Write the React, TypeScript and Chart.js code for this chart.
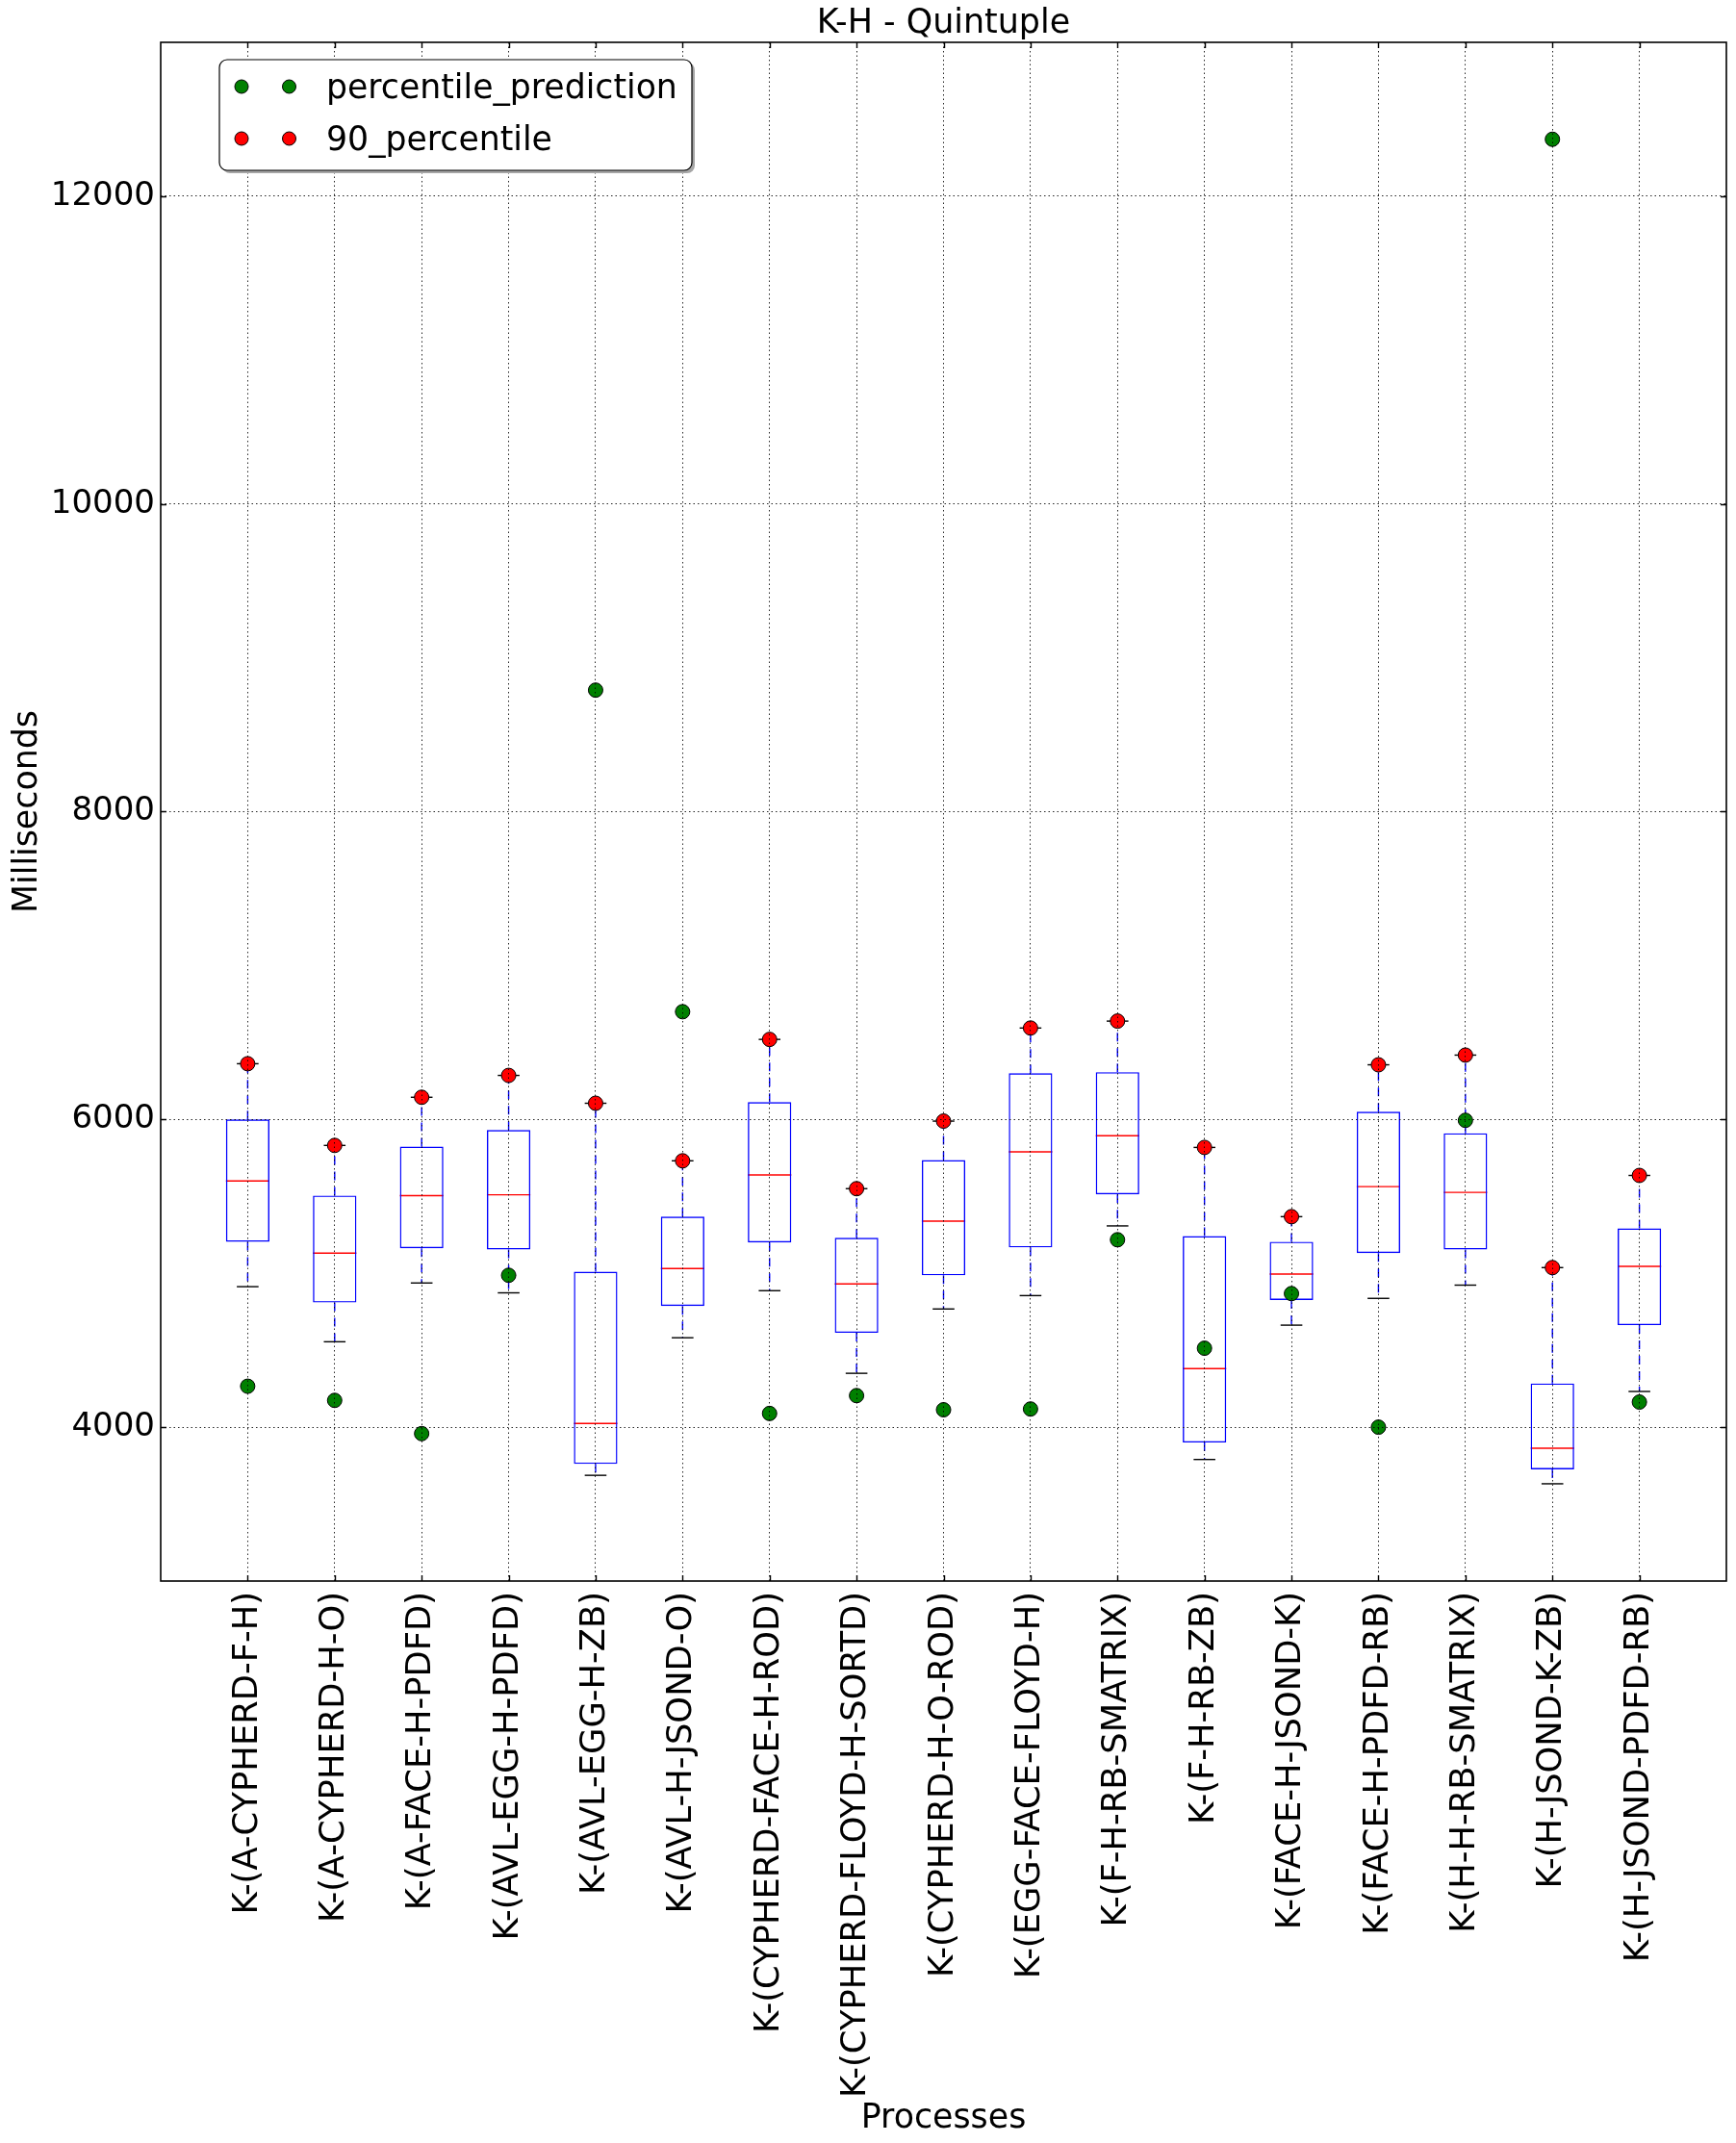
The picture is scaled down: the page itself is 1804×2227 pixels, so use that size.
import React, { useEffect, useRef } from 'react';
import { Chart, registerables } from 'chart.js';

Chart.register(...registerables);

// ---------------- data ----------------
const chartTitle = 'K-H - Quintuple';
const xAxisTitle = 'Processes';
const yAxisTitle = 'Milliseconds';

const categories = [
  'K-(A-CYPHERD-F-H)',
  'K-(A-CYPHERD-H-O)',
  'K-(A-FACE-H-PDFD)',
  'K-(AVL-EGG-H-PDFD)',
  'K-(AVL-EGG-H-ZB)',
  'K-(AVL-H-JSOND-O)',
  'K-(CYPHERD-FACE-H-ROD)',
  'K-(CYPHERD-FLOYD-H-SORTD)',
  'K-(CYPHERD-H-O-ROD)',
  'K-(EGG-FACE-FLOYD-H)',
  'K-(F-H-RB-SMATRIX)',
  'K-(F-H-RB-ZB)',
  'K-(FACE-H-JSOND-K)',
  'K-(FACE-H-PDFD-RB)',
  'K-(H-H-RB-SMATRIX)',
  'K-(H-JSOND-K-ZB)',
  'K-(H-JSOND-PDFD-RB)',
];

const whiskerLow = [4913, 4555, 4937, 4873, 3687, 4581, 4887, 4350, 4768, 4855, 5308, 3790, 4663, 4837, 4923, 3632, 4232];
const q1 = [5205, 4810, 5163, 5155, 3761, 4787, 5200, 4613, 4987, 5168, 5513, 3900, 4826, 5131, 5155, 3726, 4663];
const median = [5600, 5131, 5505, 5510, 4024, 5031, 5639, 4931, 5339, 5789, 5894, 4381, 4995, 5563, 5526, 3863, 5045];
const q3 = [6000, 5505, 5823, 5931, 5010, 5368, 6113, 5231, 5736, 6300, 6307, 5242, 5205, 6050, 5910, 4284, 5292];
const whiskerHigh = [6362, 5831, 6144, 6286, 6105, 5731, 6520, 5550, 5989, 6594, 6639, 5818, 5368, 6355, 6418, 5037, 5636];

const percentilePrediction = [4266, 4174, 3958, 4987, 8790, 6700, 4089, 4205, 4113, 4118, 5218, 4513, 4868, 4000, 5994, 12370, 4163];
const percentile90 = [6362, 5831, 6144, 6286, 6105, 5731, 6520, 5550, 5989, 6594, 6639, 5818, 5368, 6355, 6418, 5037, 5636];

const seriesLabels = ['percentile_prediction', '90_percentile'];

const yTicks = [4000, 6000, 8000, 10000, 12000];
const yMin = 3000;
const yMax = 13000;
const xMin = 0;
const xMax = 18;

// ---------------- style ----------------
const FONT = 'DejaVu Sans';
const FS_TICK_Y = 34;
const FS_TICK_X = 35.3;
const FS_TITLE = 34.9;
const FS_LEGEND = 34.7;
const FS_AXIS = 34.8;
const BLUE = '#0000ff';
const GREEN = '#008000';
const RED = '#ff0000';
const BOX_HALF = 0.25;
const CAP_HALF = 0.125;
const LW = 1.4;

const boxPlugin = {
  id: 'boxWhiskers',
  beforeDatasetsDraw(chart: any) {
    const { ctx, chartArea } = chart;
    const x = chart.scales.x;
    const y = chart.scales.y;
    ctx.save();
    ctx.beginPath();
    ctx.rect(chartArea.left, chartArea.top, chartArea.right - chartArea.left, chartArea.bottom - chartArea.top);
    ctx.clip();
    ctx.lineWidth = LW;
    categories.forEach((_, i) => {
      const pos = i + 1;
      const cx = x.getPixelForValue(pos);
      // whiskers
      ctx.strokeStyle = BLUE;
      ctx.setLineDash([9, 7]);
      ctx.beginPath();
      ctx.moveTo(cx, y.getPixelForValue(q3[i]));
      ctx.lineTo(cx, y.getPixelForValue(whiskerHigh[i]));
      ctx.stroke();
      ctx.beginPath();
      ctx.moveTo(cx, y.getPixelForValue(q1[i]));
      ctx.lineTo(cx, y.getPixelForValue(whiskerLow[i]));
      ctx.stroke();
      ctx.setLineDash([]);
      // caps
      ctx.strokeStyle = '#000';
      const cl = x.getPixelForValue(pos - CAP_HALF);
      const cr = x.getPixelForValue(pos + CAP_HALF);
      [whiskerHigh[i], whiskerLow[i]].forEach((v) => {
        const py = y.getPixelForValue(v);
        ctx.beginPath();
        ctx.moveTo(cl, py);
        ctx.lineTo(cr, py);
        ctx.stroke();
      });
      // median
      ctx.strokeStyle = RED;
      const my = y.getPixelForValue(median[i]);
      ctx.beginPath();
      ctx.moveTo(x.getPixelForValue(pos - BOX_HALF), my);
      ctx.lineTo(x.getPixelForValue(pos + BOX_HALF), my);
      ctx.stroke();
    });
    ctx.restore();
  },
  afterDraw(chart: any) {
    const { ctx, chartArea } = chart;
    const x = chart.scales.x;
    const y = chart.scales.y;
    const { left, right, top, bottom } = chartArea;
    ctx.save();
    // inward tick marks on all four sides
    ctx.strokeStyle = '#000';
    ctx.lineWidth = LW;
    const TL = 6;
    x.ticks.forEach((t: any) => {
      const px = Math.round(x.getPixelForValue(t.value)) + 0.5;
      ctx.beginPath();
      ctx.moveTo(px, bottom);
      ctx.lineTo(px, bottom - TL);
      ctx.moveTo(px, top);
      ctx.lineTo(px, top + TL);
      ctx.stroke();
    });
    y.ticks.forEach((t: any) => {
      const py = Math.round(y.getPixelForValue(t.value)) + 0.5;
      ctx.beginPath();
      ctx.moveTo(left, py);
      ctx.lineTo(left + TL, py);
      ctx.moveTo(right, py);
      ctx.lineTo(right - TL, py);
      ctx.stroke();
    });
    // frame
    ctx.lineWidth = 1.6;
    ctx.strokeRect(left, top, right - left, bottom - top);

    // legend
    const lx = left + 61;
    const ly = top + 18;
    const lw = 491;
    const lh = 115;
    const r = 8;
    const rr = (px: number, py: number) => {
      ctx.beginPath();
      ctx.moveTo(px + r, py);
      ctx.lineTo(px + lw - r, py);
      ctx.arcTo(px + lw, py, px + lw, py + r, r);
      ctx.lineTo(px + lw, py + lh - r);
      ctx.arcTo(px + lw, py + lh, px + lw - r, py + lh, r);
      ctx.lineTo(px + r, py + lh);
      ctx.arcTo(px, py + lh, px, py + lh - r, r);
      ctx.lineTo(px, py + r);
      ctx.arcTo(px, py, px + r, py, r);
      ctx.closePath();
    };
    rr(lx + 3, ly + 3);
    ctx.fillStyle = '#a6a6a6';
    ctx.fill();
    rr(lx, ly);
    ctx.fillStyle = '#ffffff';
    ctx.fill();
    ctx.strokeStyle = '#000';
    ctx.lineWidth = 1.2;
    ctx.stroke();

    const legendSets = [chart.data.datasets[1], chart.data.datasets[0]];
    legendSets.forEach((ds: any, k: number) => {
      const rowY = ly + 28 + k * 54;
      [lx + 23, lx + 72.5].forEach((mx) => {
        ctx.beginPath();
        ctx.arc(mx, rowY, 7, 0, Math.PI * 2);
        ctx.fillStyle = ds.backgroundColor;
        ctx.fill();
        ctx.lineWidth = 1;
        ctx.strokeStyle = '#000';
        ctx.stroke();
      });
      ctx.fillStyle = '#000';
      ctx.font = `${FS_LEGEND}px "${FONT}"`;
      ctx.textAlign = 'left';
      ctx.textBaseline = 'alphabetic';
      ctx.fillText(ds.label, lx + 111, rowY + 12);
    });
    ctx.restore();
  },
};

export default function App() {
  const ref = useRef<HTMLCanvasElement | null>(null);

  useEffect(() => {
    if (!ref.current) return;
    const positions = categories.map((_, i) => i + 1);
    const chart = new Chart(ref.current, {
      type: 'bar',
      data: {
        datasets: [
          {
            type: 'scatter',
            label: seriesLabels[1],
            data: positions.map((p, i) => ({ x: p, y: percentile90[i] })),
            backgroundColor: RED,
            borderColor: '#000',
            pointRadius: 7.5,
            pointHoverRadius: 7.5,
            pointBorderWidth: 1,
            showLine: false,
          } as any,
          {
            type: 'scatter',
            label: seriesLabels[0],
            data: positions.map((p, i) => ({ x: p, y: percentilePrediction[i] })),
            backgroundColor: GREEN,
            borderColor: '#000',
            pointRadius: 7.5,
            pointHoverRadius: 7.5,
            pointBorderWidth: 1,
            showLine: false,
          } as any,
          {
            type: 'bar',
            label: 'box',
            data: positions.map((p, i) => ({ x: p, y: [q1[i], q3[i]] })),
            backgroundColor: 'rgba(0,0,0,0)',
            borderColor: BLUE,
            borderWidth: LW,
            borderSkipped: false,
            barPercentage: 0.5,
            categoryPercentage: 1,
          } as any,
        ],
      },
      options: {
        animation: false,
        responsive: false,
        events: [],
        layout: { padding: { left: 0, right: 10, top: 0, bottom: 0 } },
        plugins: {
          legend: { display: false },
          tooltip: { enabled: false },
          title: {
            display: true,
            text: chartTitle,
            fullSize: false,
            color: '#000',
            font: { family: FONT, size: FS_TITLE, weight: 'normal', lineHeight: 1.1 },
            padding: { top: 5.6, bottom: 0 },
          },
        },
        scales: {
          x: {
            type: 'linear',
            min: xMin,
            max: xMax,
            offset: false,
            afterBuildTicks: (scale: any) => {
              scale.ticks = positions.map((v) => ({ value: v }));
            },
            afterFit: (scale: any) => {
              scale.height = 584;
            },
            ticks: {
              autoSkip: false,
              minRotation: 90,
              maxRotation: 90,
              padding: 11,
              color: '#000',
              font: { family: FONT, size: FS_TICK_X },
              callback: (v: any) => categories[Math.round(Number(v)) - 1] ?? '',
            },
            grid: { color: 'rgba(0,0,0,0.85)', lineWidth: 1, drawTicks: false, z: 1, offset: false },
            border: { display: false, dash: [1.5, 3] },
            title: {
              display: true,
              text: xAxisTitle,
              color: '#000',
              font: { family: FONT, size: FS_AXIS },
              padding: { top: 0, bottom: 4 },
            },
          },
          y: {
            type: 'linear',
            min: yMin,
            max: yMax,
            afterBuildTicks: (scale: any) => {
              scale.ticks = yTicks.map((v) => ({ value: v }));
            },
            afterFit: (scale: any) => {
              scale.width = 167;
            },
            ticks: {
              padding: 6,
              color: '#000',
              font: { family: FONT, size: FS_TICK_Y },
              callback: (v: any) => String(v),
            },
            grid: { color: 'rgba(0,0,0,0.85)', lineWidth: 1, drawTicks: false, z: 1 },
            border: { display: false, dash: [1.5, 3] },
            title: {
              display: true,
              text: yAxisTitle,
              color: '#000',
              font: { family: FONT, size: FS_AXIS },
              padding: { top: 8, bottom: 0 },
            },
          },
        },
      } as any,
      plugins: [boxPlugin],
    });
    return () => chart.destroy();
  }, []);

  return (
    <div style={{ position: 'absolute', left: 0, top: 0, width: 1804, height: 2227, background: '#fff' }}>
      <canvas ref={ref} width={1804} height={2227} style={{ display: 'block', width: 1804, height: 2227 }} />
    </div>
  );
}
